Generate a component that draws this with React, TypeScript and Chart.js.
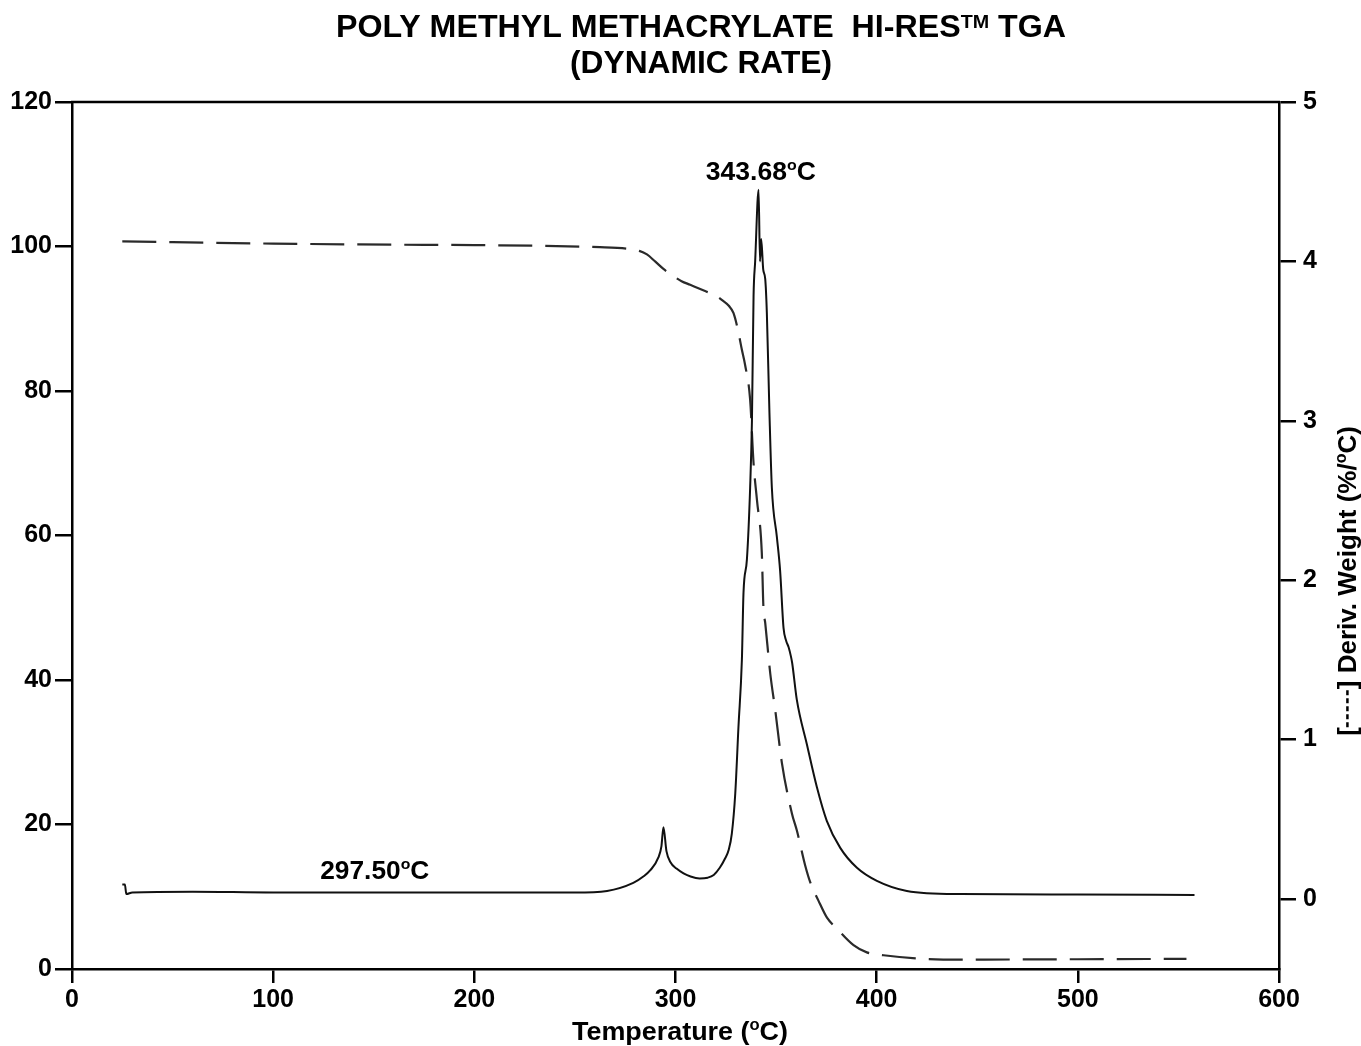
import React, { useEffect, useRef } from "react";
import { Chart, registerables } from "chart.js";

Chart.register(...registerables);

// ---------- DATA ----------
// Derivative weight curve (solid line, right axis, %/°C)
const derivTemps = [
  25, 26.3, 27, 30, 60, 100, 150, 200, 250, 266, 279, 284, 287.5, 291.5, 293, 294,
  295.5, 297.5, 300.5, 304, 307.5, 312, 316, 319, 322, 324.5, 326.5, 328, 329.7,
  331.3, 333, 333.8, 335.5, 337.1, 338, 338.8, 339.6, 341.3, 342, 342.6, 343.6,
  344.6, 345.4, 346.7, 347.9, 350.4, 352, 353.7, 355, 356.2, 357.4, 358, 360.3,
  365.3, 370.3, 375.2, 381.9, 390.2, 400.1, 415, 441.5, 500, 558,
];
const derivValues = [
  0.09, 0.09, 0.03, 0.04, 0.045, 0.04, 0.04, 0.04, 0.04, 0.05, 0.1, 0.14, 0.18, 0.26,
  0.33, 0.45, 0.3, 0.23, 0.19, 0.16, 0.14, 0.128, 0.133, 0.15, 0.195, 0.25, 0.31, 0.41,
  0.66, 1.08, 1.5, 1.92, 2.13, 2.58, 3.0, 3.78, 4.0, 4.45, 4.0, 4.14, 3.95, 3.89, 3.68,
  3.05, 2.58, 2.27, 2.06, 1.7, 1.62, 1.58, 1.52, 1.48, 1.25, 0.97, 0.7, 0.49, 0.32,
  0.195, 0.113, 0.05, 0.03, 0.027, 0.025,
];

// Weight curve (dashed line, left axis, %)
const weightTemps = [
  25, 50, 100, 160, 200, 262.4, 277.3, 282, 285.8, 290, 294, 298.9, 303, 307.3, 315,
  320, 323.5, 326.5, 328.8, 331, 333, 334.6, 337.1, 338.8, 340.5, 342.9, 343.7, 344.6,
  347.1, 349.6, 352.9, 357.9, 360.3, 364.5, 367, 371, 375.3, 380.2, 388.5, 395.1,
  403.4, 420, 441.5, 500, 554,
];
const weightValues = [
  100.7, 100.6, 100.4, 100.25, 100.2, 99.9, 99.65, 99.4, 98.9, 97.9, 96.9, 95.9, 95.2,
  94.7, 93.8, 93.2, 92.5, 91.8, 90.8, 88.5, 85.7, 83.6, 78.8, 70, 64.9, 57.6, 50.1,
  47.9, 40.9, 35.8, 28.5, 21.5, 19.2, 14.3, 12.0, 9.5, 7.1, 5.6, 3.3, 2.3, 1.9, 1.45,
  1.3, 1.35, 1.4,
];

const xTickValues = [0, 100, 200, 300, 400, 500, 600];
const leftTickValues = [0, 20, 40, 60, 80, 100, 120];
const rightTickValues = [0, 1, 2, 3, 4, 5];

const titleLine1 = "POLY METHYL METHACRYLATE  HI-RES";
const titleSup = "TM";
const titleLine1End = " TGA";
const titleLine2 = "(DYNAMIC RATE)";
const peakLabelMain = "343.68";
const peakLabelSmall = "297.50";
const xTitle = "Temperature (";
const yRightTitle = " Deriv. Weight (%/";

// ---------- DRAW HELPERS ----------
const FAMILY = "'Liberation Sans', Arial, Helvetica, sans-serif";

type Part = { text: string; sup?: boolean; raise?: number };

function partFont(size: number, sup?: boolean) {
  return `bold ${sup ? Math.round(size * 0.6) : size}px ${FAMILY}`;
}

function partsWidth(ctx: CanvasRenderingContext2D, parts: Part[], size: number) {
  let w = 0;
  for (const p of parts) {
    ctx.font = partFont(size, p.sup);
    w += ctx.measureText(p.text).width;
  }
  return w;
}

function drawParts(
  ctx: CanvasRenderingContext2D,
  parts: Part[],
  cx: number,
  baseline: number,
  size: number,
  fitWidth?: number
) {
  const natural = partsWidth(ctx, parts, size);
  const sx = fitWidth ? fitWidth / natural : 1;
  ctx.save();
  ctx.translate(cx - (natural * sx) / 2, baseline);
  ctx.scale(sx, 1);
  ctx.fillStyle = "#000";
  ctx.textBaseline = "alphabetic";
  ctx.textAlign = "left";
  let x = 0;
  for (const p of parts) {
    ctx.font = partFont(size, p.sup);
    const dy = p.sup ? -(p.raise ?? 0.4) * size : 0;
    ctx.fillText(p.text, x, dy);
    x += ctx.measureText(p.text).width;
  }
  ctx.restore();
}

const textPlugin = {
  id: "textPlugin",
  afterDraw(chart: any) {
    const ctx: CanvasRenderingContext2D = chart.ctx;
    const { chartArea, scales } = chart;

    // top frame line
    ctx.save();
    ctx.strokeStyle = "#000";
    ctx.lineWidth = 2.5;
    ctx.beginPath();
    ctx.moveTo(chartArea.left - 1, chartArea.top);
    ctx.lineTo(chartArea.right + 1, chartArea.top);
    ctx.stroke();
    ctx.restore();

    // Title
    drawParts(
      ctx,
      [
        { text: titleLine1 },
        { text: titleSup, sup: true, raise: 0.3 },
        { text: titleLine1End },
      ],
      701,
      37,
      31,
      730
    );
    drawParts(ctx, [{ text: titleLine2 }], 701, 73, 31, 262);

    // peak annotations
    const px = scales.x.getPixelForValue(342.4);
    const py = scales.y1.getPixelForValue(4.45) - 10;
    drawParts(
      ctx,
      [{ text: peakLabelMain }, { text: "o", sup: true }, { text: "C" }],
      px,
      py,
      25,
      110
    );
    const sx = scales.x.getPixelForValue(150.5);
    const sy = scales.y1.getPixelForValue(0.125);
    drawParts(
      ctx,
      [{ text: peakLabelSmall }, { text: "o", sup: true }, { text: "C" }],
      sx,
      sy,
      25,
      109
    );

    // x-axis title
    drawParts(
      ctx,
      [{ text: xTitle }, { text: "o", sup: true }, { text: "C)" }],
      680,
      1040,
      26,
      216
    );

    // right axis title (rotated)
    ctx.save();
    ctx.translate(1356, 581);
    ctx.rotate(-Math.PI / 2);
    const size = 26;
    const dashLen = 38;
    ctx.font = partFont(size);
    const wOpen = ctx.measureText("[").width;
    const wClose = ctx.measureText("]").width;
    const rest: Part[] = [{ text: yRightTitle }, { text: "o", sup: true }, { text: "C)" }];
    const wRest = partsWidth(ctx, rest, size);
    const total = wOpen + dashLen + wClose + wRest;
    let x0 = -total / 2;
    ctx.fillStyle = "#000";
    ctx.textBaseline = "alphabetic";
    ctx.textAlign = "left";
    ctx.font = partFont(size);
    ctx.fillText("[", x0, 0);
    x0 += wOpen;
    ctx.strokeStyle = "#000";
    ctx.lineWidth = 2.5;
    ctx.setLineDash([5, 3]);
    ctx.beginPath();
    ctx.moveTo(x0, -size * 0.33);
    ctx.lineTo(x0 + dashLen, -size * 0.33);
    ctx.stroke();
    ctx.setLineDash([]);
    x0 += dashLen;
    ctx.font = partFont(size);
    ctx.fillText("]", x0, 0);
    x0 += wClose;
    drawParts(ctx, rest, x0 + wRest / 2, 0, size);
    ctx.restore();
  },
};

export default function App() {
  const canvasRef = useRef<HTMLCanvasElement | null>(null);

  useEffect(() => {
    document.body.style.margin = "0";
    document.body.style.overflow = "hidden";
    const canvas = canvasRef.current;
    if (!canvas) return;

    const derivData = derivTemps.map((t, i) => ({ x: t, y: derivValues[i] }));
    const weightData = weightTemps.map((t, i) => ({ x: t, y: weightValues[i] }));

    const tickFont = { family: FAMILY, size: 25, weight: "bold" as const };
    const axisCommon = {
      grid: {
        display: true,
        drawOnChartArea: false,
        drawTicks: true,
        color: "#000",
        lineWidth: 2.5,
      },
      border: { display: true, color: "#000", width: 2.5 },
    };

    const chart = new Chart(canvas, {
      type: "line",
      data: {
        datasets: [
          {
            label: "Deriv. Weight",
            data: derivData,
            yAxisID: "y1",
            borderColor: "#111",
            borderWidth: 2,
            pointRadius: 0,
            cubicInterpolationMode: "monotone",
          },
          {
            label: "Weight",
            data: weightData,
            yAxisID: "y",
            borderColor: "#2a2a2a",
            borderWidth: 2.2,
            borderDash: [34, 13],
            pointRadius: 0,
            cubicInterpolationMode: "monotone",
          },
        ],
      },
      options: {
        animation: false,
        responsive: false,
        maintainAspectRatio: false,
        layout: { padding: { top: 102, left: 0, right: 0, bottom: 0 } },
        plugins: {
          legend: { display: false },
          tooltip: { enabled: false },
          title: { display: false },
        },
        scales: {
          x: {
            type: "linear",
            position: "bottom",
            min: 0,
            max: 600,
            ...axisCommon,
            grid: { ...axisCommon.grid, tickLength: 14 },
            ticks: { font: tickFont, color: "#000", padding: 2, maxRotation: 0 },
            afterBuildTicks: (axis: any) => {
              axis.ticks = xTickValues.map((v) => ({ value: v }));
            },
            afterFit: (axis: any) => {
              axis.height = 77;
            },
          },
          y: {
            type: "linear",
            position: "left",
            min: 0,
            max: 120,
            ...axisCommon,
            grid: { ...axisCommon.grid, tickLength: 17 },
            ticks: { font: tickFont, color: "#000", padding: 3 },
            afterBuildTicks: (axis: any) => {
              axis.ticks = leftTickValues.map((v) => ({ value: v }));
            },
            afterFit: (axis: any) => {
              axis.width = 72;
            },
          },
          y1: {
            type: "linear",
            position: "right",
            min: -0.44,
            max: 5,
            ...axisCommon,
            grid: { ...axisCommon.grid, tickLength: 17 },
            ticks: { font: tickFont, color: "#000", padding: 7 },
            afterBuildTicks: (axis: any) => {
              axis.ticks = rightTickValues.map((v) => ({ value: v }));
            },
            afterFit: (axis: any) => {
              axis.width = 82;
            },
          },
        },
      },
      plugins: [textPlugin],
    });

    return () => chart.destroy();
  }, []);

  return (
    <div style={{ width: 1361, height: 1046, background: "#fff" }}>
      <canvas ref={canvasRef} width={1361} height={1046} style={{ display: "block" }} />
    </div>
  );
}
